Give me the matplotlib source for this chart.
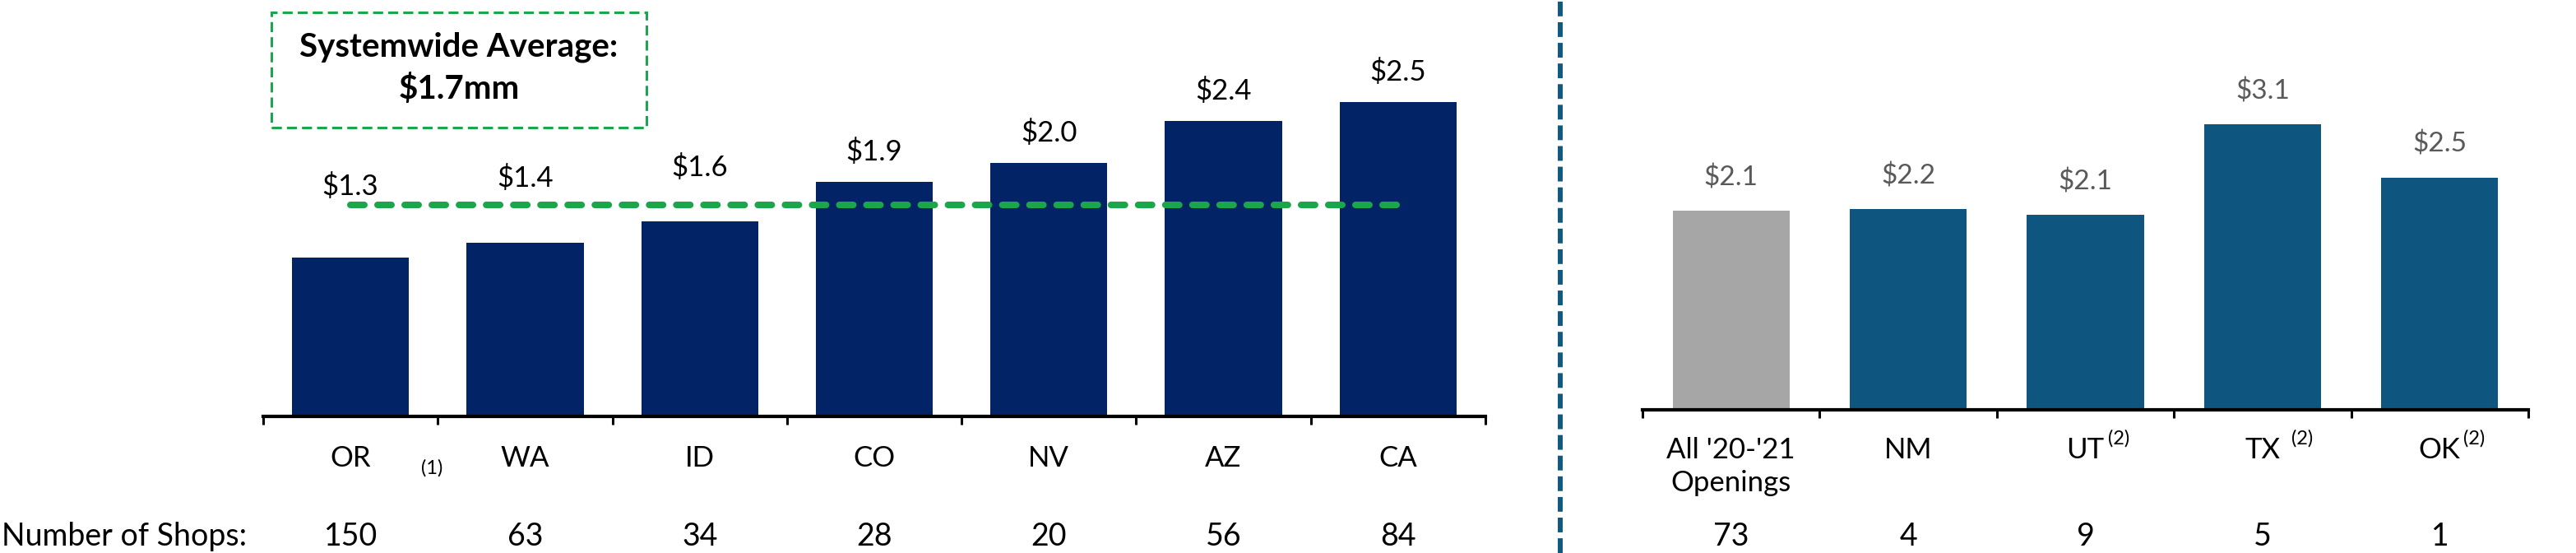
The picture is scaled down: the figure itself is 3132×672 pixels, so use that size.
import matplotlib
matplotlib.use("Agg")
from matplotlib import pyplot as plt
from matplotlib.patches import Rectangle
from matplotlib.lines import Line2D
import numpy as np

plt.rcParams['font.family'] = ['Lato', 'DejaVu Sans']

# podaci - lijevi graf (postojece drzave)
states = ["OR", "WA", "ID", "CO", "NV", "AZ", "CA"]
auv = [1.28, 1.40, 1.57, 1.89, 2.04, 2.38, 2.53]
shops = [150, 63, 34, 28, 20, 56, 84]
systemwide_avg = 1.7

# podaci - desni graf (nova trzista)
new_markets = ["All '20-'21\nOpenings", "NM", "UT", "TX", "OK"]
new_notes = ["", "", "(2)", "(2)", "(2)"]
new_auv = [2.14, 2.16, 2.10, 3.07, 2.50]
new_shops = [73, 4, 9, 5, 1]

W, H = 3132, 672
fig = plt.figure(figsize=(W / 100, H / 100), dpi=100)

navy = "#022366"
teal = "#0E5680"
grey = "#A6A6A6"

def style_axis(ax, n):
    for s in ["top", "left", "right"]:
        ax.spines[s].set_visible(False)
    ax.spines["bottom"].set_linewidth(3)
    ax.set_xlim(-0.5, n - 0.5)
    ax.set_yticks([])
    ax.set_xticks(np.arange(n + 1) - 0.5)
    ax.set_xticklabels([])
    ax.tick_params(axis="x", length=7, width=2.2, direction="out")

# lijevi graf
ax1 = fig.add_axes([320 / W, (H - 506) / H, 1486 / W, 506 / H])
x1 = np.arange(len(states))
ax1.bar(x1, auv, width=0.67, color=navy)
ax1.set_ylim(0, 506 / 151)
style_axis(ax1, len(states))

# prosjek - isprekidana zelena linija
ax1.plot([0, 6], [systemwide_avg, systemwide_avg], color="#1BA64B", lw=5.8,
         linestyle=(0, (2.1, 2.0)), dash_capstyle="round")

# vrijednosti iznad stupaca (prve tri dignute iznad linije prosjeka)
lift = [0.57, 0.52, 0.43, 0.24, 0.24, 0.24, 0.24]
for i, v in enumerate(auv):
    ax1.text(i, v + lift[i], "$%.1f" % v, ha="center", va="center",
             fontsize=25, color="black")

xt1 = ax1.get_xaxis_transform()
for i, s in enumerate(states):
    ax1.text(i, -35 / 506, s, ha="center", va="top", fontsize=25, transform=xt1)
    ax1.text(i, -146 / 506, str(shops[i]), ha="center", va="center",
             fontsize=27, transform=xt1)
ax1.text(0.466, -63 / 506, "(1)", ha="center", va="center", fontsize=17,
         transform=xt1)

fig.text(2 / W, (H - 652) / H, "Number of Shops:", ha="left", va="center",
         fontsize=27)

# okvir sa prosjekom
fig.add_artist(Rectangle((330 / W, (H - 155) / H), 456 / W, 140 / H,
                         transform=fig.transFigure, fill=False,
                         edgecolor="#1BA64B", lw=2.2, linestyle=(0, (4, 2))))
fig.text(558 / W, (H - 57) / H, "Systemwide Average:", ha="center",
         va="center", fontsize=29, fontweight="bold")
fig.text(558 / W, (H - 108) / H, "$%.1fmm" % systemwide_avg, ha="center",
         va="center", fontsize=29, fontweight="bold")

# vertikalni razdjelnik
fig.add_artist(Line2D([1897 / W, 1897 / W], [0, 1], transform=fig.transFigure,
                      color="#10597F", lw=4.3, linestyle=(0, (3, 1.2))))

# desni graf
ax2 = fig.add_axes([1997 / W, (H - 498) / H, 1077 / W, 498 / H])
x2 = np.arange(len(new_markets))
colors2 = [grey] + [teal] * (len(new_markets) - 1)
ax2.bar(x2, new_auv, width=0.66, color=colors2)
ax2.set_ylim(0, 498 / 113)
style_axis(ax2, len(new_markets))

for i, v in enumerate(new_auv):
    ax2.text(i, v + 0.354, "$%.1f" % v, ha="center", va="center",
             fontsize=24, color="#595959")

xt2 = ax2.get_xaxis_transform()
gaps = [0, 0, 4, 14, 3]
for i, m in enumerate(new_markets):
    t = ax2.text(i, -33 / 498, m, ha="center", va="top", fontsize=25,
                 transform=xt2, linespacing=1.3)
    if new_notes[i]:
        ax2.annotate(new_notes[i], xy=(1, 1), xycoords=t,
                     xytext=(gaps[i], -2), textcoords="offset pixels",
                     ha="left", va="center", fontsize=17)
    ax2.text(i, -154 / 498, str(new_shops[i]), ha="center", va="center",
             fontsize=27, transform=xt2)

plt.savefig("out.png", dpi=100)
